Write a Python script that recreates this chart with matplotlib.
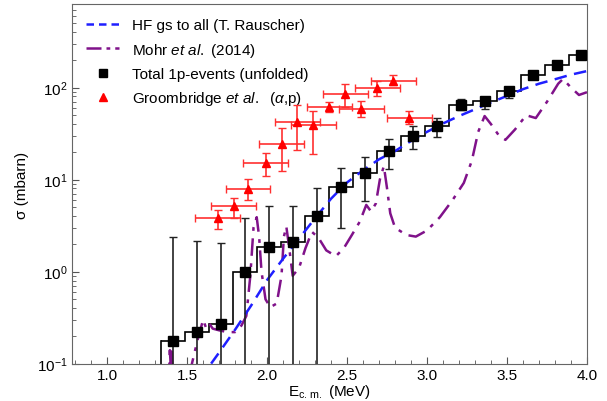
import numpy as np
import matplotlib
matplotlib.use('Agg')
import matplotlib.pyplot as plt
from matplotlib.lines import Line2D
from matplotlib.ticker import MultipleLocator, LogLocator, NullFormatter

plt.rcParams['font.family'] = ['Liberation Sans', 'DejaVu Sans']
plt.rcParams['mathtext.fontset'] = 'custom'
plt.rcParams['mathtext.rm'] = 'Liberation Sans'
plt.rcParams['mathtext.it'] = 'Liberation Sans:italic'
plt.rcParams['font.size'] = 10

# HF gs to all (T. Rauscher)
hf_e = [1.65, 1.70, 1.80, 1.90, 2.00, 2.10, 2.20, 2.30, 2.40, 2.50, 2.60, 2.70,
        2.80, 2.90, 3.00, 3.10, 3.20, 3.30, 3.40, 3.50, 3.60, 3.70, 3.80, 3.90, 4.00]
hf_s = [0.1, 0.132, 0.234, 0.427, 0.81, 1.38, 2.29, 3.8, 6.2, 9.3, 12.6, 16.6,
        20.4, 26.3, 33.0, 40.7, 49, 58, 69, 81, 96, 110, 123, 138, 151]

# Mohr et al. (2014)
mohr_e = [1.383, 1.392, 1.398, 1.404, 1.412,
          1.50, 1.53, 1.565, 1.60, 1.62, 1.64, 1.66, 1.70, 1.75, 1.80, 1.84, 1.87,
          1.895, 1.915, 1.935, 1.95, 1.965, 1.99, 2.02, 2.06, 2.09, 2.105, 2.12,
          2.135, 2.16, 2.20, 2.24, 2.28, 2.32, 2.37, 2.43, 2.48, 2.53, 2.58, 2.62,
          2.65, 2.68, 2.705, 2.73, 2.75, 2.77, 2.80, 2.87, 2.93, 3.00, 3.08, 3.16,
          3.23, 3.28, 3.32, 3.36, 3.40, 3.45, 3.49, 3.55, 3.62, 3.68, 3.75, 3.82,
          3.85, 3.90, 3.95, 4.00]
mohr_s = [0.05, 0.14, 0.09, 0.135, 0.05,
          0.05, 0.10, 0.18, 0.30, 0.24, 0.27, 0.24, 0.23, 0.22, 0.22, 0.26, 0.33,
          0.9, 3.0, 3.9, 2.4, 1.0, 0.5, 0.41, 0.45, 0.9, 2.4, 3.1,
          2.0, 0.9, 1.1, 1.8, 2.7, 2.35, 1.7, 1.47, 1.8, 2.5, 3.5, 5.3,
          4.5, 5.5, 10.0, 14.0, 8.0, 4.3, 3.0, 2.5, 2.4, 2.8, 3.9, 6.0,
          9.2, 16.0, 33.0, 49.0, 40.0, 30.0, 27.0, 35.0, 50.0, 46.6, 70.0, 110.0,
          124.0, 100.0, 83.0, 89.0]

# Total 1p-events (unfolded)
tot_e = [1.41, 1.56, 1.71, 1.86, 2.01, 2.16, 2.31, 2.46, 2.61, 2.76, 2.91, 3.06,
         3.21, 3.36, 3.51, 3.66, 3.81, 3.96]
tot_s = [0.178, 0.22, 0.27, 1.0, 1.86, 2.08, 4.0, 8.4, 11.9, 20.5, 30.0, 38.4,
         65, 70.7, 91, 136, 177, 223]
tot_hi = [2.35, 2.16, 2.04, 3.8, 5.15, 5.15, 8.0, 13.5, 17.8, 27.5, 38.5, 46.6,
          75.5, 78.6, 100, 142, 184, 231]
tot_lo = [0.01, 0.01, 0.01, 0.01, 0.01, 0.01, 0.01, 2.94, 5.8, 12.9, 21.4, 28.8,
          56.5, 58.4, 76.7, 130, 170, 215]
bin_w = 0.15

# Groombridge et al. (alpha,p)
gr_e = [1.69, 1.79, 1.88, 1.99, 2.09, 2.19, 2.29, 2.39, 2.49, 2.59, 2.69, 2.79, 2.89]
gr_s = [3.8, 5.1, 7.9, 15.1, 24.3, 41.8, 39.4, 61, 85, 58.5, 99, 119, 46.6]
gr_hi = [4.7, 6.3, 10.2, 19.4, 36, 64, 55, 69, 110, 71, 117, 136, 55]
gr_lo = [2.9, 3.8, 6.0, 11.0, 12.4, 20.7, 18.9, 54, 62, 48, 80, 106, 40]
gr_xerr = 0.14

fig = plt.figure(figsize=(6.07, 4.02), dpi=100)
ax = fig.add_axes([0.1186, 0.093, 0.8484, 0.8935])

ax.plot(hf_e, hf_s, color='#1f1fff', lw=1.8, dashes=(5, 3), zorder=4)
ax.plot(mohr_e, mohr_s, color='#80128a', lw=1.8, dashes=(7, 3, 1.5, 3), zorder=3)

edges = np.append(np.array(tot_e) - bin_w / 2, tot_e[-1] + bin_w / 2)
ax.stairs(tot_s, edges, baseline=None, color='black', lw=1.2, zorder=2)
ax.plot([edges[0], edges[0]], [0.01, tot_s[0]], color='black', lw=1.2, zorder=2)

ts = np.array(tot_s)
ax.errorbar(tot_e, tot_s, yerr=[ts - np.array(tot_lo), np.array(tot_hi) - ts],
            fmt='s', color='black', ms=7, ecolor='#222222', elinewidth=1.2,
            capsize=3, capthick=1.0, zorder=5)

gs = np.array(gr_s)
ax.errorbar(gr_e, gr_s, yerr=[gs - np.array(gr_lo), np.array(gr_hi) - gs],
            xerr=gr_xerr, fmt='^', color='red', ms=6, ecolor='#ff3030',
            elinewidth=1.2, capsize=3, capthick=1.0, zorder=6)

ax.set_yscale('log')
ax.set_xlim(0.78, 4.0)
ax.set_ylim(0.1, 800)
ax.xaxis.set_major_locator(MultipleLocator(0.5))
ax.xaxis.set_minor_locator(MultipleLocator(0.1))
ax.yaxis.set_major_locator(LogLocator(base=10))
ax.yaxis.set_minor_locator(LogLocator(base=10, subs=np.arange(2, 10)))
ax.yaxis.set_minor_formatter(NullFormatter())
ax.tick_params(which='both', direction='in', top=False, right=False,
               color='#555555', labelsize=11, pad=3)
ax.tick_params(which='major', length=5)
ax.tick_params(which='minor', length=3)
for s in ax.spines.values():
    s.set_color('#666666')

ax.set_xlabel(r'E$_{\mathrm{c.\,m.}}$ (MeV)', fontsize=11, labelpad=0)
ax.set_ylabel('σ (mbarn)', fontsize=11, labelpad=6)

handles = [
    Line2D([], [], color='#1f1fff', lw=1.8, dashes=(3, 2)),
    Line2D([], [], color='#80128a', lw=1.8, dashes=(6, 2, 1.5, 2)),
    Line2D([], [], ls='none', marker='s', color='black', ms=6),
    Line2D([], [], ls='none', marker='^', color='red', ms=6),
]
labels = ['HF gs to all (T. Rauscher)', r'Mohr $et\ al.$ (2014)',
          'Total 1p-events (unfolded)', r'Groombridge $et\ al.$  ($\alpha$,p)']
ax.legend(handles, labels, loc='upper left', frameon=False, fontsize=11,
          handlelength=2.2, labelspacing=0.55, bbox_to_anchor=(0.0, 1.0))

fig.savefig('out.png', dpi=100)
